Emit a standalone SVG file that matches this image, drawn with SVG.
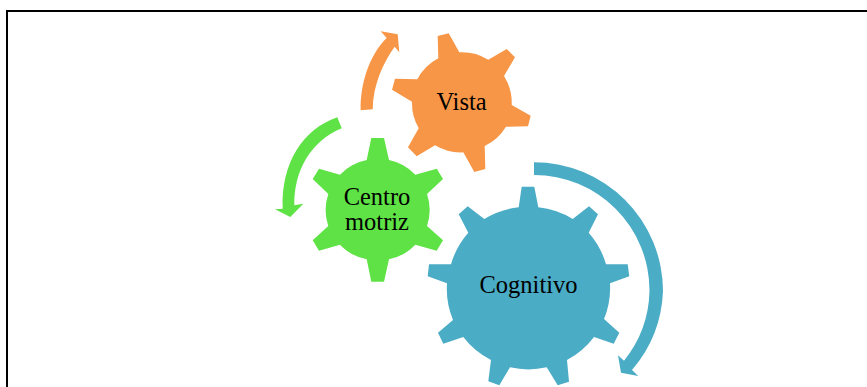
<svg xmlns="http://www.w3.org/2000/svg" width="867" height="387" viewBox="0 0 867 387">
<style>
.l{font-family:"Liberation Serif","Times New Roman",serif;font-size:24.500px;fill:#000;text-anchor:middle}
.o{fill:#F79646}.g{fill:#5FE245}.b{fill:#4BACC6}
</style>
<rect width="867" height="387" fill="#fff"/>
<path d="M7 387V11H867" fill="none" stroke="#000" stroke-width="2"/>
<g id="connectors">
<path class="o" d="M360.700 110.300C360 85 369 55 386.700 38L380.700 31.300L397.700 34.300L399.300 52.300L394.700 46.700C383 63 373 85 372.700 109.300Z"/>
<path class="g" d="M337.300 117.300C303 129 281 163 282.700 208.700L275 209.300L290.300 217L303.300 203.700L294.300 205.300C294 170 311 141 341.700 128.300Z"/>
<path class="b" d="M534 162.300A129 129 0 0 1 663 291A129 129 0 0 1 632 370L638.300 376L621 372.700L618 355.300L624 360.700A115.500 115.500 0 0 0 649.500 291A115.500 115.500 0 0 0 534 175Z"/>
</g>
<g id="vista">
<path class="o" d="M437.700 36L448.700 33.300L459.300 52.300A50 50 0 0 1 488.300 59.700L506.700 49L515 57.300L504 76A50 50 0 0 1 511.700 105L530.700 115.700L528 126.300L506 126.700A50 50 0 0 1 484.700 146L485.300 169L474.300 172L463.300 152.300A50 50 0 0 1 435 145.300L416.700 156.300L408 147.300L418.700 128.300A50 50 0 0 1 412 101.700L392 89.700L395 78.700L417.300 79.300A50 50 0 0 1 438.300 58.300Z"/>
<text class="l" x="461.500" y="110">Vista</text>
</g>
<g id="centro-motriz">
<path class="g" d="M371.300 138H384L389 160A50 50 0 0 1 415.300 174.700L436.700 168.700L443 179L427 194A50 50 0 0 1 427 226L443 240.300L436.700 250.700L415.300 244.700A50 50 0 0 1 389 259.300L384 281.700H371.300L366.700 259.300A50 50 0 0 1 340 244.700L319 250.700L312.700 240.300L328.300 226A50 50 0 0 1 328.300 194L312.700 179L319 168.700L340 174.700A50 50 0 0 1 366.700 160Z"/>
<text class="l" x="377" y="205">Centro</text>
<text class="l" x="377" y="230">motriz</text>
</g>
<g id="cognitivo">
<path class="b" d="M521.700 186.700H534.300L538.300 207.300A81.500 81.500 0 0 1 572.700 219L589 206.300L598 214.300L588.700 232.700A81.500 81.500 0 0 1 606 264.300H627.700L629.300 276.300L610 283.300A81.500 81.500 0 0 1 604 319L619.300 332.700L613.700 343.700L594 337A81.500 81.500 0 0 1 567 360L569 381.700L557.700 385.300L546.700 367.300A81.500 81.500 0 0 1 510 367.300L499.300 385.300L488.300 381.300L491 360A81.500 81.500 0 0 1 463.300 337L443.300 343.700L438 332.700L453 320A81.500 81.500 0 0 1 447 283.300L427.700 276.300L429 264.300H451A81.500 81.500 0 0 1 468.300 232.700L458.700 214.300L467.700 206.300L484.300 219A81.500 81.500 0 0 1 518.700 207.300Z"/>
<text class="l" x="528.500" y="293">Cognitivo</text>
</g>
</svg>
